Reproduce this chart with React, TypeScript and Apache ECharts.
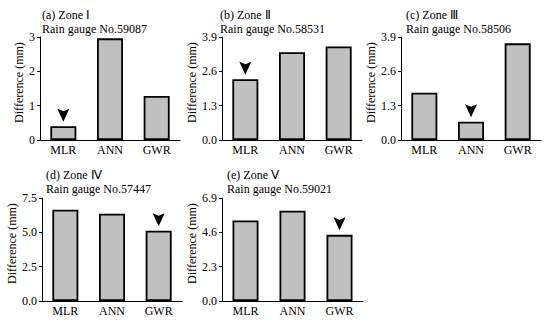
import React, { useEffect, useRef } from "react";
import * as echarts from "echarts";

const categories = ["MLR", "ANN", "GWR"];
const panelTitles = ["(a) Zone Ⅰ", "(b) Zone Ⅱ", "(c) Zone Ⅲ", "(d) Zone Ⅳ", "(e) Zone Ⅴ"];
const gaugeNames = [
  "Rain gauge No.59087",
  "Rain gauge No.58531",
  "Rain gauge No.58506",
  "Rain gauge No.57447",
  "Rain gauge No.59021",
];
const zoneA = [0.4, 2.96, 1.28];
const zoneB = [2.3, 3.32, 3.54];
const zoneC = [1.79, 0.69, 3.66];
const zoneD = [6.65, 6.36, 5.11];
const zoneE = [5.4, 6.05, 4.43];
const seriesValues = [zoneA, zoneB, zoneC, zoneD, zoneE];
const arrowIndex = [0, 0, 1, 2, 2];
const axisMax = [3, 3.9, 3.9, 7.5, 6.9];
const axisInterval = [1, 1.3, 1.3, 2.5, 2.3];
const axisDecimals = [0, 1, 1, 1, 1];

const gridLayout = [
  { left: 40, top: 37, width: 140, height: 103 },
  { left: 222, top: 37, width: 140, height: 103 },
  { left: 401, top: 37, width: 140, height: 103 },
  { left: 42, top: 198, width: 140, height: 103 },
  { left: 222, top: 198, width: 141, height: 103 },
];
const titlePos = [
  { left: 42, top: 8 },
  { left: 220, top: 8 },
  { left: 406, top: 8 },
  { left: 46, top: 168 },
  { left: 227, top: 168 },
];

const FONT = "Liberation Serif";
const ARROW = "path://M0,0 L6,2.5 L12,0 L6,13 Z";

export default function App() {
  const ref = useRef<HTMLDivElement>(null);
  useEffect(() => {
    if (!ref.current) return;
    const chart = echarts.init(ref.current, null, { renderer: "svg" });
    const grids = gridLayout.map((g) => ({ ...g, containLabel: false }));
    const xAxes = gridLayout.map((_, i) => ({
      type: "category",
      gridIndex: i,
      data: categories,
      axisLine: { lineStyle: { color: "#000", width: 1 } },
      axisTick: { alignWithLabel: true, length: 3, lineStyle: { color: "#000" } },
      axisLabel: { color: "#000", fontSize: 12, fontFamily: FONT, margin: 4 },
    }));
    const yAxes = gridLayout.map((_, i) => ({
      type: "value",
      gridIndex: i,
      min: 0,
      max: axisMax[i],
      interval: axisInterval[i],
      name: "Difference (mm)",
      nameLocation: "middle",
      nameGap: 15,
      nameTextStyle: { color: "#000", fontSize: 12, fontFamily: FONT, padding: [0, 0, 0, 12] },
      splitLine: { show: false },
      axisLine: { show: true, lineStyle: { color: "#000", width: 1 } },
      axisTick: { show: true, length: 3, lineStyle: { color: "#000" } },
      axisLabel: {
        color: "#000",
        fontSize: 12,
        fontFamily: FONT,
        margin: 5,
        formatter: (v: number) => v.toFixed(axisDecimals[i]),
      },
    }));
    const series: any[] = [];
    seriesValues.forEach((vals, i) => {
      series.push({
        type: "bar",
        xAxisIndex: i,
        yAxisIndex: i,
        data: vals,
        barWidth: 26,
        itemStyle: { color: "#c0c0c0", borderColor: "#000", borderWidth: 1.8 },
        silent: true,
      });
      series.push({
        type: "scatter",
        xAxisIndex: i,
        yAxisIndex: i,
        data: [[arrowIndex[i], vals[arrowIndex[i]]]],
        symbol: ARROW,
        symbolSize: [12, 13],
        symbolOffset: [0, -11],
        itemStyle: { color: "#000", opacity: 1 },
        silent: true,
        z: 5,
      });
    });
    chart.setOption({
      animation: false,
      backgroundColor: "#fff",
      title: panelTitles.map((t, i) => ({
        text: t + "\n" + gaugeNames[i],
        left: titlePos[i].left,
        top: titlePos[i].top,
        padding: 0,
        textStyle: {
          color: "#000",
          fontSize: 12,
          fontWeight: "normal",
          fontFamily: FONT,
          lineHeight: 14,
        },
      })),
      grid: grids,
      xAxis: xAxes,
      yAxis: yAxes,
      series,
    });
    return () => chart.dispose();
  }, []);
  return <div ref={ref} style={{ width: 550, height: 325, position: "absolute", left: 0, top: 0 }} />;
}
